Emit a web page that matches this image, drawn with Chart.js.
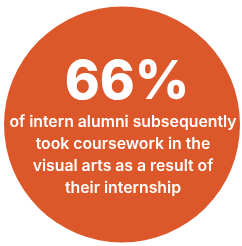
<!DOCTYPE html>
<html>
<head>
<meta charset="utf-8">
<script src="https://cdn.jsdelivr.net/npm/chart.js@4"></script>
<style>
  html, body { margin: 0; padding: 0; background: #fff; }
  #wrap { position: relative; width: 242px; height: 246px; overflow: hidden; }
  #statChart { position: absolute; left: 0; top: 0; }
  .txt { position: absolute; left: 0; width: 246px; text-align: center; color: #fff; font-family: Inter, "Noto Sans", sans-serif; white-space: nowrap; }
  #big { left: 4px; top: 50px; font-size: 53px; font-weight: 800; line-height: 60px; }
  #caption { top: 111px; font-size: 15.8px; font-weight: 600; line-height: 21.9px; }
</style>
</head>
<body>
<div id="wrap">
  <canvas id="statChart" width="242" height="246"></canvas>
  <div class="txt" id="big"></div>
  <div class="txt" id="caption"></div>
</div>
<script>
// one full circle for the stat
const labels = ['intern alumni'];
const values = [66];
const captionLines = [
    'of intern alumni subsequently',
    'took coursework in the',
    'visual arts as a result of',
    'their internship'
];

const ctx = document.getElementById('statChart').getContext('2d');

new Chart(ctx, {
    type: 'pie',
    data: {
        labels: labels,
        datasets: [{
            data: values,
            backgroundColor: '#dc582a',
            borderWidth: 0
        }]
    },
    options: {
        responsive: false,
        animation: false,
        layout: { padding: { left: 4, right: 2, top: 5, bottom: 2 } },
        plugins: {
            legend: { display: false },
            tooltip: { enabled: false }
        }
    }
});

document.getElementById('big').textContent = values[0] + '%';
document.getElementById('caption').innerHTML = captionLines.join('<br>');
</script>
</body>
</html>
